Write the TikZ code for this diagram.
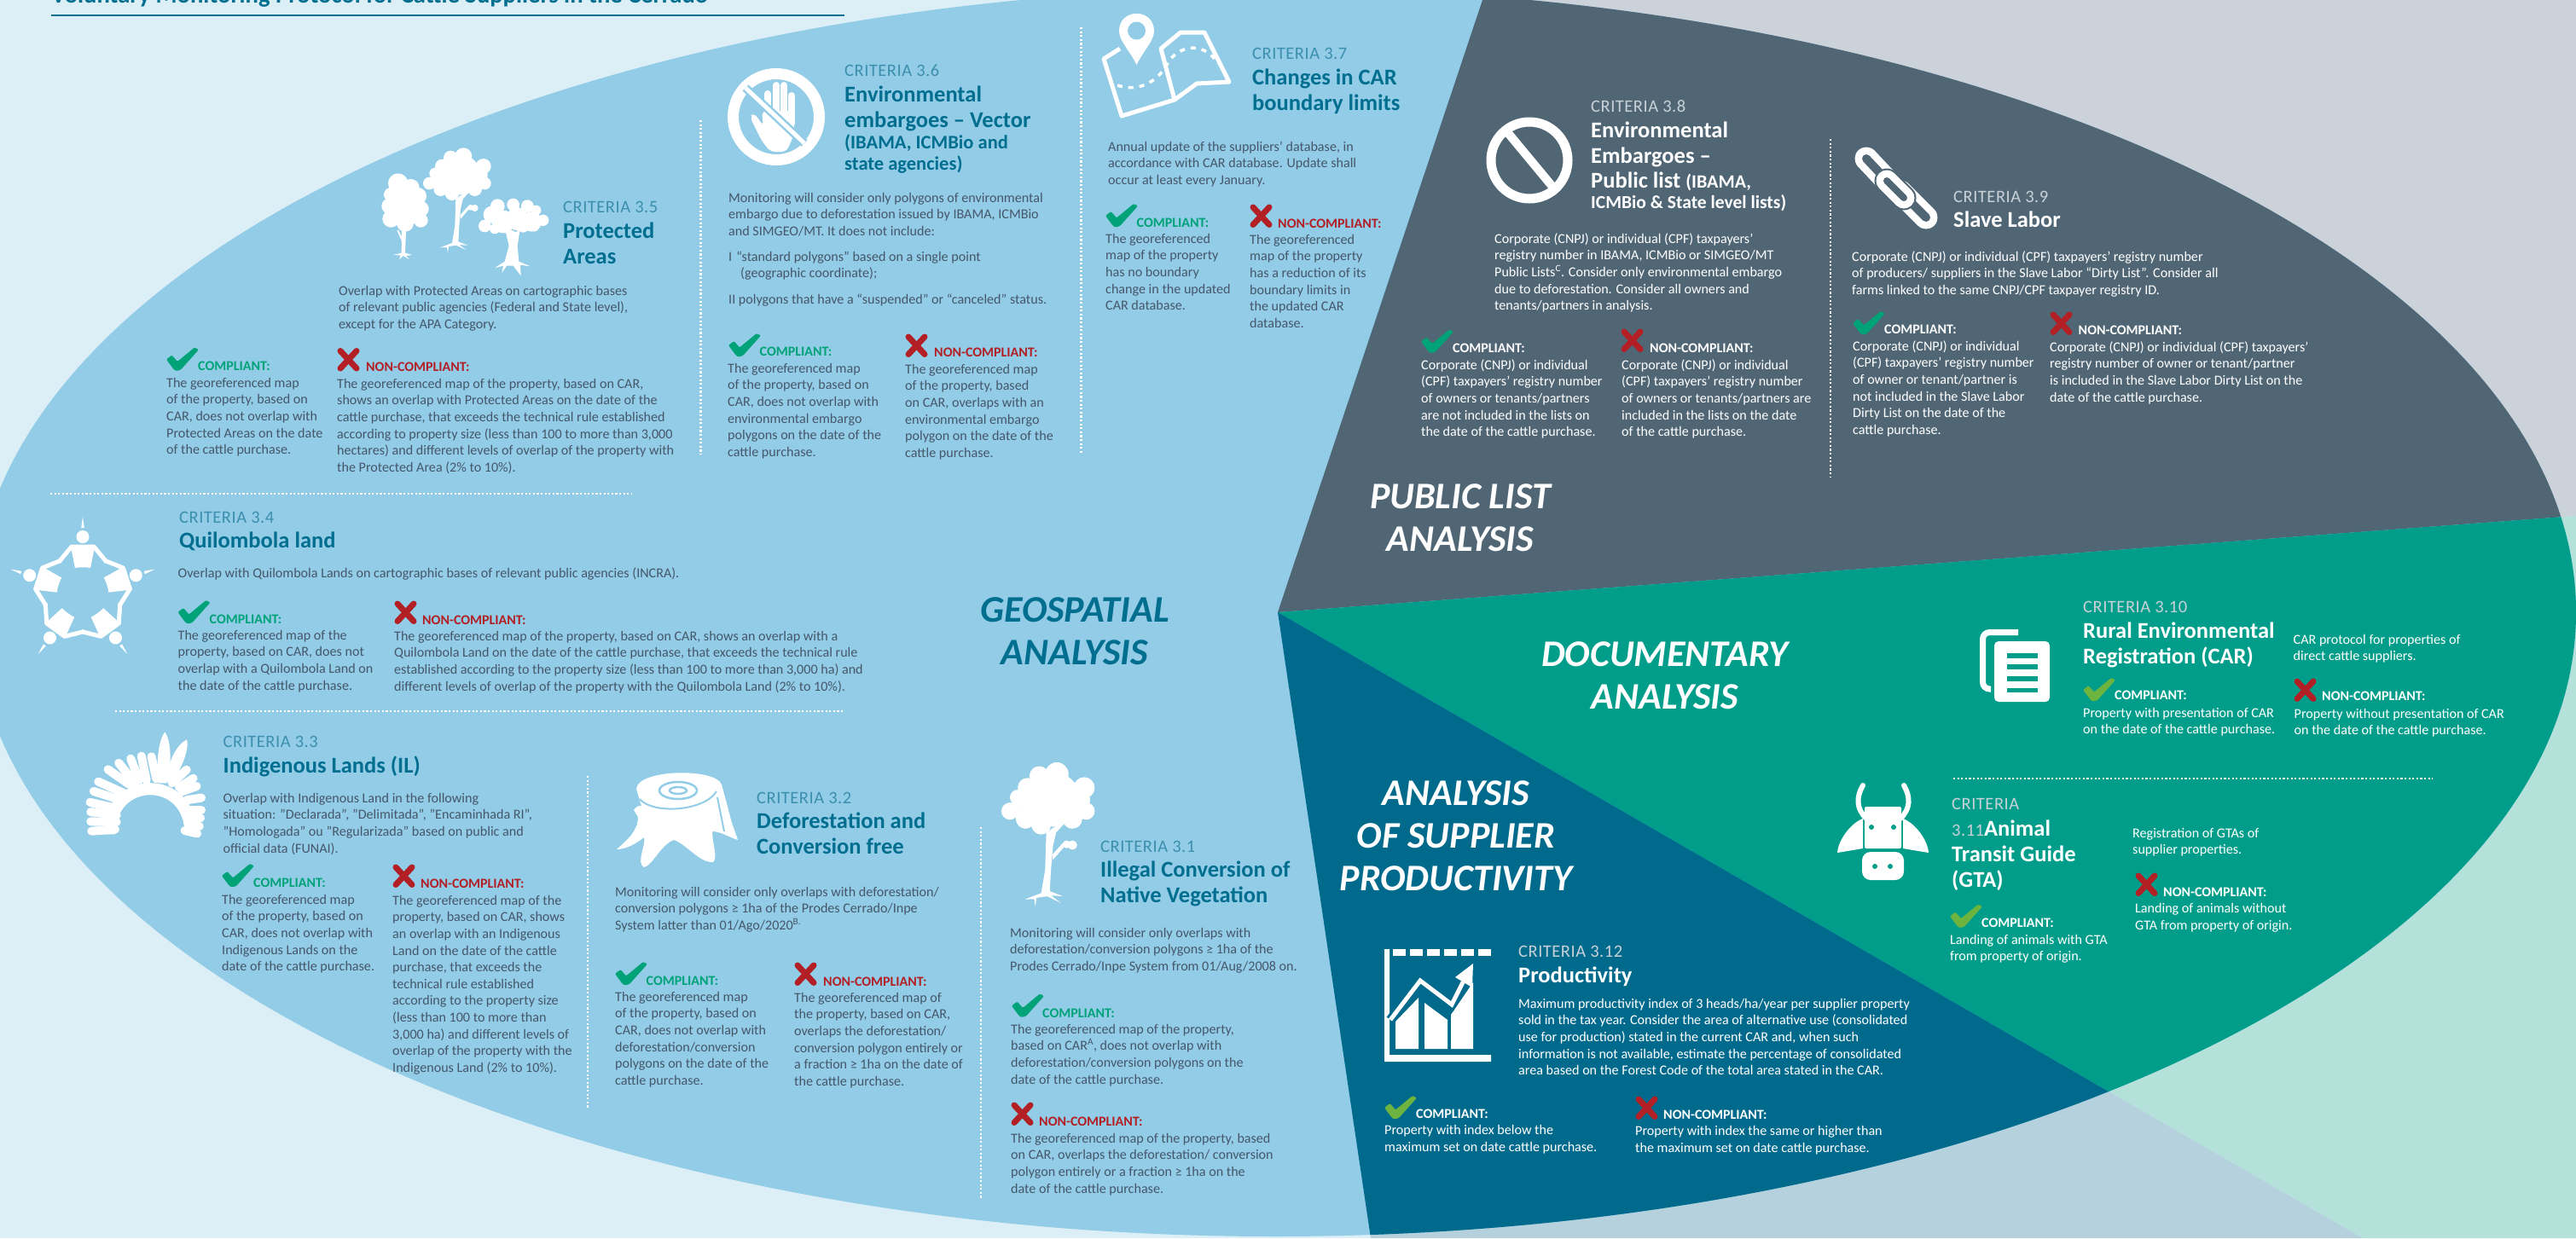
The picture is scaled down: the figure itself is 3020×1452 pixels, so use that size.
\documentclass[tikz,border=0pt]{standalone}
\usepackage{fontspec}
\setmainfont{Carlito}
\newfontfamily\critf[LetterSpace=2.5]{Carlito}
\definecolor{bgtint}{HTML}{DCEFF7}
\definecolor{graytint}{HTML}{CBD2D9}
\definecolor{minttint}{HTML}{B4E1D9}
\definecolor{midtint}{HTML}{B4D1DD}
\definecolor{ltblue}{HTML}{92CCE7}
\definecolor{slatec}{HTML}{516675}
\definecolor{tealc}{HTML}{009E8A}
\definecolor{dkblue}{HTML}{006A8D}
\definecolor{headc}{HTML}{006E8F}
\definecolor{critc}{HTML}{3C8FAE}
\definecolor{bodyc}{HTML}{46576A}
\definecolor{okgreen}{HTML}{00A277}
\definecolor{oklime}{HTML}{6DB33F}
\definecolor{nored}{HTML}{B21F24}
\definecolor{critw}{HTML}{C8D1D8}
\tikzset{
 x=1pt,y=-1pt,
 bodytxt/.style={anchor=north west,inner sep=0pt,align=left,text=bodyc,font=\fontsize{16.1}{19.6}\selectfont},
 bodywht/.style={bodytxt,text=white},
 headtxt/.style={anchor=north west,inner sep=0pt,align=left,text=headc,font=\fontsize{26.5}{30}\selectfont\bfseries},
 headwht/.style={headtxt,text=white},
 crittxt/.style={anchor=base west,inner sep=0pt,text=critc,font=\fontsize{20.5}{22}\selectfont\critf},
 critwht/.style={crittxt,text=critw},
 lbl/.style={anchor=base west,inner sep=0pt,font=\fontsize{16}{19}\selectfont\bfseries},
 sectxt/.style={inner sep=0pt,align=center,text=white,font=\fontsize{44}{50}\selectfont\bfseries\itshape},
 dotline/.style={line width=2.4pt,dash pattern=on 2.2pt off 2.4pt},
 feather/.style={white,line width=10pt,line cap=round,shorten >=4pt},
}
\newcommand\BT[5][bodytxt]{\node[#1] (#2) at (#3,#4-8.7) {\strut #5};}
\newcommand\HD[5][headtxt]{\node[#1] (#2) at (#3,#4-13) {\strut #5};}
\newcommand\CRT[5][crittxt]{\node[#1] (#2) at (#3,#4+6.5) {#5};}
% check mark, top-left at (#1,#2)
\newcommand\CKM[3]{\fill[#3,rounded corners=1.2pt,shift={(#1,#2)}] (0,14) -- (6.5,9) -- (13,16.5) -- (33,0) -- (38,2.5) -- (17,26) -- (12,27.5) -- (9,26) -- cycle;}
\newcommand\XMK[2]{\draw[nored,line width=7pt,line cap=round,shift={(#1,#2)}] (4,4) -- (23,24.5) (23,4) -- (4,24.5);}
% name, x, y of mark, label x, label y, mark colour, label colour
\newcommand\OKM[7]{\CKM{#2}{#3}{#6}\node[lbl,text=#7] (#1) at (#4,#5+5.5) {COMPLIANT:};}
\newcommand\NOM[6]{\XMK{#2}{#3}\node[lbl,text=#6] (#1) at (#4,#5+5.5) {NON-COMPLIANT:};}
% tall tree with leaf
\newcommand\TreeB{%
 \fill[white] (310,55) circle (30) (265,60) circle (25) (380,90) circle (27) (235,90) circle (25) (210,115) circle (20) (190,150) circle (22) (385,150) circle (22) (230,170) circle (25) (270,185) circle (25) (350,170) circle (25) (300,120) circle (70) (355,120) circle (40) (235,130) circle (30);
 \fill[white] (283,205) -- (305,190) -- (325,175) -- (328,183) -- (308,205) -- (300,240) -- (295,300) -- (292,355) -- (325,368) -- (295,366) -- (320,385) -- (285,368) -- (258,372) -- (255,395) -- (252,375) -- (228,376) -- (270,360) -- (280,300) -- cycle;
 \fill[white] (298,262) -- (325,232) -- (330,240) -- (300,275) -- cycle (335,235) circle (10) (350,237) circle (12);
}
\begin{document}
\begin{tikzpicture}
\clip (0,0) rectangle (3020,1452);
\coordinate (apex) at (1498,718);
\fill[bgtint] (0,0) rectangle (3020,1452);
\fill[graytint] (apex) -- (1738,0) -- (3020,0) -- (3020,605) -- cycle;
\fill[minttint] (apex) -- (3020,605) -- (3020,1452) -- (2770,1452) -- cycle;
\fill[midtint] (apex) -- (2770,1452) -- (1607,1452) -- cycle;
\begin{scope}
 \clip (1495,718) ellipse [x radius=1525pt,y radius=732pt];
 \fill[ltblue] (0,0) rectangle (3020,1452);
 \fill[slatec] (apex) -- (1738,0) -- (3020,0) -- (3020,605) -- cycle;
 \fill[tealc] (apex) -- (3020,605) -- (3020,1452) -- (2770,1452) -- cycle;
 \fill[dkblue] (apex) -- (2770,1452) -- (1607,1452) -- cycle;
\end{scope}
% title
\node[anchor=base west,inner sep=0pt,text=headc,font=\fontsize{28.6}{30}\selectfont\bfseries] (title) at (60,3.5) {Voluntary Monitoring Protocol for Cattle Suppliers in the Cerrado};
\draw[headc,line width=1.5pt] (60,18) -- (990,18);
% dotted rules
\draw[white,dotline] (821.5,141) -- (821.5,533);
\draw[white,dotline] (59,579) -- (740,579);
\draw[white,dotline] (1267.5,32) -- (1267.5,531);
\draw[white,dotline] (2146,163) -- (2146,559);
\draw[white,dotline] (135,834) -- (988,834);
\draw[white,dotline] (689,910) -- (689,1300);
\draw[white,dotline] (1150,970) -- (1150,1405);
\draw[white,dotline] (2290,913) -- (2852,913);
% section names
\node[sectxt] (secpub) at (1712,607) {PUBLIC LIST\\ANALYSIS};
\node[sectxt,text=headc] (secgeo) at (1260,740) {GEOSPATIAL\\ANALYSIS};
\node[sectxt] (secdoc) at (1952,792) {DOCUMENTARY\\ANALYSIS};
\node[sectxt] (secprod) at (1707,980) {ANALYSIS\\OF SUPPLIER\\PRODUCTIVITY};
%% 3.5
\begin{scope}[shift={(440,165)},scale=1/3]
 \fill[white] (80,150) circle (35) (125,165) circle (30) (55,190) circle (25) (150,195) circle (30) (50,230) circle (28) (160,240) circle (28) (55,275) circle (30) (105,240) circle (60) (160,280) circle (25) (105,290) circle (30);
 \fill[white] (93,315) -- (108,315) -- (105,395) -- (130,402) -- (108,405) -- (120,418) -- (98,405) -- (85,418) -- (88,403) -- (62,402) -- (92,395) -- cycle;
 \fill[white] (76,315) -- (82,315) -- (96,345) -- (95,358) -- cycle;
 \TreeB
 \fill[white] (430,230) circle (25) (485,225) circle (22) (535,230) circle (22) (565,245) circle (18) (590,280) circle (20) (385,300) circle (22) (410,260) circle (30) (450,285) circle (40) (500,275) circle (40) (550,285) circle (35) (420,310) circle (18) (560,305) circle (15) (520,305) circle (18);
 \fill[white] (458,318) -- (480,315) -- (495,322) -- (510,305) -- (500,370) -- (505,425) -- (545,442) -- (510,437) -- (512,475) -- (485,440) -- (462,440) -- (445,465) -- (450,440) -- (420,448) -- (455,425) -- (470,370) -- cycle;
\end{scope}
\CRT{c35}{660}{243}{CRITERIA 3.5}
\HD{h35}{660}{271}{Protected\\Areas}
\BT{b35}{397}{341}{Overlap with Protected Areas on cartographic bases\\of relevant public agencies (Federal and State level),\\except for the APA Category.}
\OKM{l35a}{195}{407.5}{232}{429}{okgreen}{okgreen}
\BT{t35a}{195}{449}{The georeferenced map\\of the property, based on\\CAR, does not overlap with\\Protected Areas on the date\\of the cattle purchase.}
\NOM{l35b}{395}{407.5}{429}{430}{nored}
\BT{t35b}{395}{450}{The georeferenced map of the property, based on CAR,\\shows an overlap with Protected Areas on the date of the\\cattle purchase, that exceeds the technical rule established\\according to property size (less than 100 to more than 3,000\\hectares) and different levels of overlap of the property with\\the Protected Area (2\% to 10\%).}
%% 3.6
\draw[white,line width=13pt] (910,137) circle (50.5);
\fill[white,rounded corners=6pt] (893,130) -- (932,130) -- (930,160) -- (922,178) -- (903,178) -- (893,165) -- (879,137) -- (884,132) -- (895,148) -- cycle;
\draw[white,line width=8pt,line cap=round] (900,110) -- (900,140) (910,100) -- (910,140) (919,100) -- (919,140) (928,112) -- (928,145);
\draw[ltblue,line width=10pt] (874,103) -- (943,168);
\draw[white,line width=5pt] (874,103) -- (943,168);
\CRT{c36}{990}{83}{CRITERIA 3.6}
\HD{h36}{990}{111}{Environmental\\embargoes -- Vector}
\node[headtxt,font=\fontsize{22.5}{25.5}\selectfont\bfseries] (h36b) at (990,167-11) {\strut (IBAMA, ICMBio and\\state agencies)};
\BT{b36}{854}{232}{Monitoring will consider only polygons of environmental\\embargo due to deforestation issued by IBAMA, ICMBio\\and SIMGEO/MT. It does not include:}
\BT{b36i}{854}{301}{I\hspace{5pt}“standard polygons” based on a single point\\\hspace{14pt}(geographic coordinate);}
\BT{b36j}{854}{351}{II polygons that have a “suspended” or “canceled” status.}
\OKM{l36a}{854}{391}{890.5}{412}{okgreen}{okgreen}
\BT{t36a}{853}{432}{The georeferenced map\\of the property, based on\\CAR, does not overlap with\\environmental embargo\\polygons on the date of the\\cattle purchase.}
\NOM{l36b}{1061}{391}{1095}{413}{nored}
\BT{t36b}{1061}{433}{The georeferenced map\\of the property, based\\on CAR, overlaps with an\\environmental embargo\\polygon on the date of the\\cattle purchase.}
%% 3.7
\draw[white,line width=5pt,line join=round] (1313,57) -- (1294,69) -- (1315,136) -- (1377,117) -- (1403,98) -- (1441,96) -- (1412,38) -- (1384,38) -- (1361,57) -- (1377,117);
\draw[white,line width=3.5pt,dash pattern=on 6pt off 7pt] (1310,100) .. controls (1340,110) and (1360,90) .. (1368,76) .. controls (1378,55) and (1410,45) .. (1428,75);
\fill[white] (1332.5,76) .. controls (1325,60) and (1312,48) .. (1312,36.5) .. controls (1312,9) and (1353,9) .. (1353,36.5) .. controls (1353,48) and (1340,60) .. (1332.5,76) -- cycle;
\fill[ltblue] (1332.5,36) circle (10.5);
\CRT{c37}{1468}{63}{CRITERIA 3.7}
\HD{h37}{1468}{91}{Changes in CAR\\boundary limits}
\BT{b37}{1299}{172}{Annual update of the suppliers’ database, in\\accordance with CAR database. Update shall\\occur at least every January.}
\OKM{l37a}{1296}{239}{1332.5}{261}{okgreen}{okgreen}
\BT{t37a}{1296}{280}{The georeferenced\\map of the property\\has no boundary\\change in the updated\\CAR database.}
\NOM{l37b}{1465}{239}{1498}{262}{nored}
\BT{t37b}{1465}{281}{The georeferenced\\map of the property\\has a reduction of its\\boundary limits in\\the updated CAR\\database.}
%% 3.8
\draw[white,line width=11pt] (1793,188) circle (45);
\draw[white,line width=10pt] (1763,150) -- (1826,226);
\CRT[critwht]{c38}{1865}{125}{CRITERIA 3.8}
\HD[headwht]{h38}{1865}{153}{Environmental\\Embargoes --}
\node[headwht] (h38b) at (1865,212-13) {\strut Public list {\fontsize{22}{25}\selectfont(IBAMA,}};
\node[headwht,font=\fontsize{21.5}{25}\selectfont\bfseries] (h38c) at (1865,238-11) {\strut ICMBio \& State level lists)};
\BT[bodywht]{b38}{1752}{280}{Corporate (CNPJ) or individual (CPF) taxpayers’\\registry number in IBAMA, ICMBio or SIMGEO/MT\\Public Lists\textsuperscript{C}. Consider only environmental embargo\\due to deforestation. Consider all owners and\\tenants/partners in analysis.}
\OKM{l38a}{1666}{386.5}{1703}{407.6}{okgreen}{white}
\BT[bodywht]{t38a}{1666}{428}{Corporate (CNPJ) or individual\\(CPF) taxpayers’ registry number\\of owners or tenants/partners\\are not included in the lists on\\the date of the cattle purchase.}
\NOM{l38b}{1900}{385}{1934}{408}{white}
\BT[bodywht]{t38b}{1901}{428}{Corporate (CNPJ) or individual\\(CPF) taxpayers’ registry number\\of owners or tenants/partners are\\included in the lists on the date\\of the cattle purchase.}
%% 3.9
\draw[white,line width=27pt,line cap=round] (2188,186) -- (2220,220);
\draw[slatec,line width=10pt,line cap=round] (2188,186) -- (2220,220);
\draw[white,line width=27pt,line cap=round] (2228,225) -- (2258,255);
\draw[slatec,line width=10pt,line cap=round] (2228,225) -- (2258,255);
\draw[slatec,line width=29pt,line cap=round] (2212,212) -- (2232,232);
\draw[white,line width=25pt,line cap=round] (2212,212) -- (2232,232);
\draw[slatec,line width=8pt,line cap=round] (2212,212) -- (2232,232);
\CRT[critwht]{c39}{2290}{231}{CRITERIA 3.9}
\HD[headwht]{h39}{2290}{258}{Slave Labor}
\BT[bodywht]{b39}{2171}{301}{Corporate (CNPJ) or individual (CPF) taxpayers’ registry number\\of producers/ suppliers in the Slave Labor “Dirty List”. Consider all\\farms linked to the same CNPJ/CPF taxpayer registry ID.}
\OKM{l39a}{2172}{365}{2209}{386}{okgreen}{white}
\BT[bodywht]{t39a}{2172}{406}{Corporate (CNPJ) or individual\\(CPF) taxpayers’ registry number\\of owner or tenant/partner is\\not included in the Slave Labor\\Dirty List on the date of the\\cattle purchase.}
\NOM{l39b}{2403}{365}{2436.5}{387}{white}
\BT[bodywht]{t39b}{2403}{407}{Corporate (CNPJ) or individual (CPF) taxpayers’\\registry number of owner or tenant/partner\\is included in the Slave Labor Dirty List on the\\date of the cattle purchase.}
%% 3.4
\begin{scope}[shift={(97,695)}]
 \foreach \a in {0,72,144,216,288}{
  \begin{scope}[rotate=\a]
   \fill[white] (0,-65.5) circle (7.5);
   \fill[white] (-1.8,-76) -- (0,-89) -- (1.8,-76) -- cycle;
   \fill[white] (-14.5,-56) -- (14.5,-56) -- (9,-29) .. controls (3,-30) and (-3,-30) .. (-9,-29) -- cycle;
   \draw[white,line width=5pt,line join=round] (28,-36) -- (13,-54) -- (-13,-54) -- (-28,-36);
  \end{scope}
 }
\end{scope}
\CRT{c34}{210}{607}{CRITERIA 3.4}
\HD{h34}{210}{634}{Quilombola land}
\BT{b34}{208.5}{672}{Overlap with Quilombola Lands on cartographic bases of relevant public agencies (INCRA).}
\OKM{l34a}{208.5}{704}{245.5}{726}{okgreen}{okgreen}
\BT{t34a}{208.5}{745}{The georeferenced map of the\\property, based on CAR, does not\\overlap with a Quilombola Land on\\the date of the cattle purchase.}
\NOM{l34b}{462}{704}{495}{727}{nored}
\BT{t34b}{462}{746}{The georeferenced map of the property, based on CAR, shows an overlap with a\\Quilombola Land on the date of the cattle purchase, that exceeds the technical rule\\established according to the property size (less than 100 to more than 3,000 ha) and\\different levels of overlap of the property with the Quilombola Land (2\% to 10\%).}
%% 3.3
\begin{scope}[shift={(95,850)},scale=1/3]
 \foreach \bx/\by/\tx/\ty in {120/368/25/375,125/342/22/340,125/318/22/305,130/295/20/270,140/265/33/230,150/240/50/195,170/210/85/150,190/205/125/125,205/195/170/108,230/195/210/98,265/190/245/100,320/205/380/150,345/220/405/182,355/235/418/212,370/265/435/255,375/300/435/300,375/320/432/330,375/345/428/360,365/372/420/385}{
  \draw[feather] (\bx,\by) -- (\tx,\ty);
 }
 \draw[white,line width=14pt] (99,385) .. controls (99,175) and (386,170) .. (386,385);
 \fill[white] (272,205) .. controls (262,130) and (275,50) .. (295,25) .. controls (318,60) and (320,140) .. (302,205) -- cycle;
 \fill[white] (300,200) .. controls (305,130) and (335,70) .. (372,52) .. controls (382,90) and (350,160) .. (318,205) -- cycle;
\end{scope}
\CRT{c33}{261.5}{870}{CRITERIA 3.3}
\HD{h33}{261.5}{898}{Indigenous Lands (IL)}
\BT{b33}{261.5}{936}{Overlap with Indigenous Land in the following\\situation: "Declarada", "Delimitada", "Encaminhada RI",\\"Homologada" ou "Regularizada" based on public and\\official data (FUNAI).}
\OKM{l33a}{260}{1013}{297}{1035}{okgreen}{okgreen}
\BT{t33a}{260}{1055}{The georeferenced map\\of the property, based on\\CAR, does not overlap with\\Indigenous Lands on the\\date of the cattle purchase.}
\NOM{l33b}{460}{1013}{493}{1036}{nored}
\BT{t33b}{460}{1056}{The georeferenced map of the\\property, based on CAR, shows\\an overlap with an Indigenous\\Land on the date of the cattle\\purchase, that exceeds the\\technical rule established\\according to the property size\\(less than 100 to more than\\3,000 ha) and different levels of\\overlap of the property with the\\Indigenous Land (2\% to 10\%).}
%% 3.2
\fill[white] (746,925) .. controls (748,902) and (838,900) .. (846,920) -- (858,965) -- (865,985) .. controls (855,982) and (845,975) .. (835,975) .. controls (835,990) and (842,1005) .. (836,1011) .. controls (820,1012) and (805,990) .. (790,985) .. controls (775,990) and (765,1015) .. (755,1017) .. controls (745,1012) and (758,990) .. (755,982) .. controls (745,990) and (733,996) .. (723,996) .. controls (735,985) and (748,975) .. (748,958) -- (743,950) .. controls (746,945) and (750,945) .. (752,945) -- (746,925) -- cycle;
\draw[ltblue,line width=2.5pt] (795,927) ellipse [x radius=10pt,y radius=4pt];
\draw[ltblue,line width=2.5pt] (795,927) ellipse [x radius=22pt,y radius=10pt];
\draw[ltblue,line width=2pt] (750,937) .. controls (765,955) and (825,952) .. (840,928);
\draw[ltblue,line width=2pt] (841,935) -- (849,975);
\CRT{c32}{887}{936}{CRITERIA 3.2}
\HD{h32}{887}{963}{Deforestation and\\Conversion free}
\BT{b32}{721}{1046}{Monitoring will consider only overlaps with deforestation/\\conversion polygons ≥ 1ha of the Prodes Cerrado/Inpe\\System latter than 01/Ago/2020\textsuperscript{B.}}
\OKM{l32a}{721}{1128}{757.5}{1150}{okgreen}{okgreen}
\BT{t32a}{721}{1169}{The georeferenced map\\of the property, based on\\CAR, does not overlap with\\deforestation/conversion\\polygons on the date of the\\cattle purchase.}
\NOM{l32b}{931}{1128}{965}{1150.6}{nored}
\BT{t32b}{931}{1170}{The georeferenced map of\\the property, based on CAR,\\overlaps the deforestation/\\conversion polygon entirely or\\a fraction ≥ 1ha on the date of\\the cattle purchase.}
%% 3.1
\begin{scope}[shift={(1097,882.5)},scale=0.458]\TreeB\end{scope}
\CRT{c31}{1290}{993}{CRITERIA 3.1}
\HD{h31}{1290}{1020}{Illegal Conversion of\\Native Vegetation}
\BT{b31}{1184}{1094}{Monitoring will consider only overlaps with\\deforestation/conversion polygons ≥ 1ha of the\\Prodes Cerrado/Inpe System from 01/Aug/2008 on.}
\OKM{l31a}{1186}{1165.5}{1222}{1188}{okgreen}{okgreen}
\BT{t31a}{1185}{1207}{The georeferenced map of the property,\\based on CAR\textsuperscript{A}, does not overlap with\\deforestation/conversion polygons on the\\date of the cattle purchase.}
\NOM{l31b}{1185}{1292}{1218}{1315}{nored}
\BT{t31b}{1185}{1335}{The georeferenced map of the property, based\\on CAR, overlaps the deforestation/ conversion\\polygon entirely or a fraction ≥ 1ha on the\\date of the cattle purchase.}
%% 3.10
\draw[white,line width=7pt,rounded corners=8pt] (2366,741.5) -- (2324.5,741.5) -- (2324.5,808) -- (2334,808);
\fill[white,rounded corners=5pt] (2338,752) rectangle (2403,823);
\foreach \yy in {769,782,796,809.5}{\fill[tealc] (2353,\yy-2.8) rectangle (2389,\yy+2.8);}
\CRT[critwht]{c310}{2442}{712}{CRITERIA 3.10}
\HD[headwht]{h310}{2442}{740}{Rural Environmental\\Registration (CAR)}
\BT[bodywht]{b310}{2688.5}{750}{CAR protocol for properties of\\direct cattle suppliers.}
\OKM{l310a}{2442}{795}{2479}{815}{oklime}{white}
\BT[bodywht]{t310a}{2442}{836}{Property with presentation of CAR\\on the date of the cattle purchase.}
\NOM{l310b}{2689}{795}{2722}{816}{white}
\BT[bodywht]{t310b}{2689.5}{837}{Property without presentation of CAR\\on the date of the cattle purchase.}
%% 3.11
\draw[white,line width=6pt,line cap=round] (2184,921) .. controls (2176,935) and (2176,948) .. (2188,960);
\draw[white,line width=6pt,line cap=round] (2232,921) .. controls (2240,935) and (2240,948) .. (2228,960);
\fill[white,rounded corners=2pt] (2186,946) rectangle (2229,995);
\fill[white] (2184,960) .. controls (2170,965) and (2155,985) .. (2154,1000) -- (2184,995) -- cycle;
\fill[white] (2231,960) .. controls (2245,965) and (2260,985) .. (2261,1000) -- (2231,995) -- cycle;
\fill[white,rounded corners=10pt] (2183,999) rectangle (2232,1032);
\fill[tealc] (2194,970) circle (3) (2220,970) circle (3) (2198,1016) circle (3) (2216,1016) circle (3);
\node[crittxt,text=critw] (c311) at (2288,949.5) {CRITERIA};
\HD[headwht]{h311}{2288}{972}{{\color{critw}\fontsize{20.5}{22}\selectfont\mdseries\critf 3.11}Animal\\Transit Guide\\(GTA)}
\BT[bodywht]{b311}{2500}{977}{Registration of GTAs of\\supplier properties.}
\NOM{l311b}{2503}{1023}{2536}{1046}{white}
\BT[bodywht]{t311b}{2503}{1065.5}{Landing of animals without\\GTA from property of origin.}
\OKM{l311a}{2286}{1060.6}{2323}{1082}{oklime}{white}
\BT[bodywht]{t311a}{2286}{1102}{Landing of animals with GTA\\from property of origin.}
%% 3.12
\fill[white] (1623,1113) rectangle (1629,1245) (1623,1237) rectangle (1748,1245);
\foreach \xx in {1633,1653,1673,1693,1713,1733}{\fill[white] (\xx,1113) rectangle (\xx+15,1121);}
\fill[white] (1636,1230) -- (1636,1198) -- (1663,1170) -- (1663,1230) -- cycle;
\fill[white] (1670,1230) -- (1670,1176) -- (1697,1196) -- (1697,1230) -- cycle;
\fill[white] (1701,1230) -- (1701,1190) -- (1727,1152) -- (1727,1230) -- cycle;
\draw[dkblue,line width=11pt] (1630,1196) -- (1665,1150) -- (1702,1178) -- (1722,1145);
\draw[white,line width=5pt] (1630,1196) -- (1665,1150) -- (1702,1178) -- (1718,1146);
\fill[white] (1727,1130) -- (1726,1158) -- (1706,1146) -- cycle;
\CRT[critwht]{c312}{1780}{1116}{CRITERIA 3.12}
\HD[headwht]{h312}{1780}{1144}{Productivity}
\BT[bodywht]{b312}{1780}{1177}{Maximum productivity index of 3 heads/ha/year per supplier property\\sold in the tax year. Consider the area of alternative use (consolidated\\use for production) stated in the current CAR and, when such\\information is not available, estimate the percentage of consolidated\\area based on the Forest Code of the total area stated in the CAR.}
\OKM{l312a}{1623}{1285}{1660}{1306}{oklime}{white}
\BT[bodywht]{t312a}{1623}{1325.5}{Property with index below the\\maximum set on date cattle purchase.}
\NOM{l312b}{1917}{1285}{1950}{1307}{white}
\BT[bodywht]{t312b}{1917}{1326.5}{Property with index the same or higher than\\the maximum set on date cattle purchase.}
\end{tikzpicture}
\end{document}
